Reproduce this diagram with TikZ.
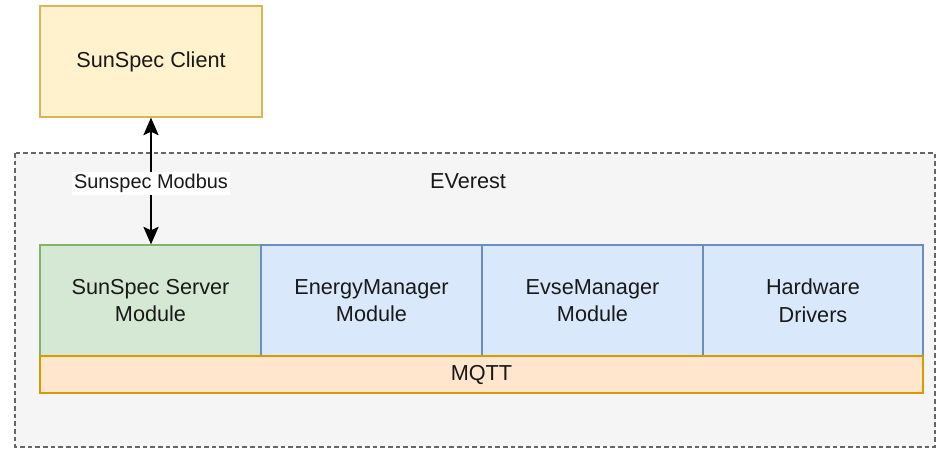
\documentclass[tikz,border=0pt]{standalone}
\usepackage{fontspec}
\setmainfont{Liberation Sans}
\usetikzlibrary{arrows.meta}

\definecolor{clientfill}{HTML}{FFF2CC}
\definecolor{clientdraw}{HTML}{D6B656}
\definecolor{greenfill}{HTML}{D5E8D4}
\definecolor{greendraw}{HTML}{82B366}
\definecolor{bluefill}{HTML}{DAE8FC}
\definecolor{bluedraw}{HTML}{6C8EBF}
\definecolor{mqttfill}{HTML}{FFE6CC}
\definecolor{mqttdraw}{HTML}{D79B00}
\definecolor{groupfill}{HTML}{F5F5F5}
\definecolor{groupdraw}{HTML}{666666}

\tikzset{
  box/.style={draw, line width=1.1pt, align=center, inner sep=0pt,
    font=\fontsize{18.5}{23.5}\selectfont, text=black!90},
  module/.style={box, minimum width=221*0.03cm, minimum height=111*0.03cm},
  linkarrow/.style={line width=1.3pt, {Stealth[length=15pt,width=13pt,inset=3pt]}-{Stealth[length=15pt,width=13pt,inset=3pt]}}
}

\begin{document}
\begin{tikzpicture}[x=0.03cm, y=-0.03cm]
            \useasboundingbox (0, 0) rectangle (938, 449);

            % EVerest group
            \draw[fill=groupfill, draw=groupdraw, line width=1pt, dash pattern=on 0.14cm off 0.09cm] (15, 153) rectangle (935, 447);
            \node[box, draw=none] (everest) at (468, 181) {EVerest};

            \node[module, fill=clientfill, draw=clientdraw, minimum width=222*0.03cm] (client) at (151, 61.5) {SunSpec Client};

            \node[module, fill=greenfill, draw=greendraw] (server) at (150.5, 300.5) {SunSpec Server\\Module};
            \node[module, fill=bluefill, draw=bluedraw] (energy) at (371.5, 300.5) {EnergyManager\\Module};
            \node[module, fill=bluefill, draw=bluedraw] (evse) at (592.5, 300.5) {EvseManager\\Module};
            \node[module, fill=bluefill, draw=bluedraw, minimum width=220*0.03cm] (drivers) at (813, 300.5) {Hardware\\Drivers};

            \node[box, fill=mqttfill, draw=mqttdraw, minimum width=883*0.03cm, minimum height=37*0.03cm] (mqtt) at (481.5, 374.5) {MQTT};

            \draw[linkarrow] (client.south -| 151, 0) -- (server.north -| 151, 0)
                node[pos=0.52, fill=white, inner sep=1.5pt, font=\fontsize{17}{20}\selectfont, text=black!90] (modbus) {Sunspec Modbus};

        \end{tikzpicture}
\end{document}
